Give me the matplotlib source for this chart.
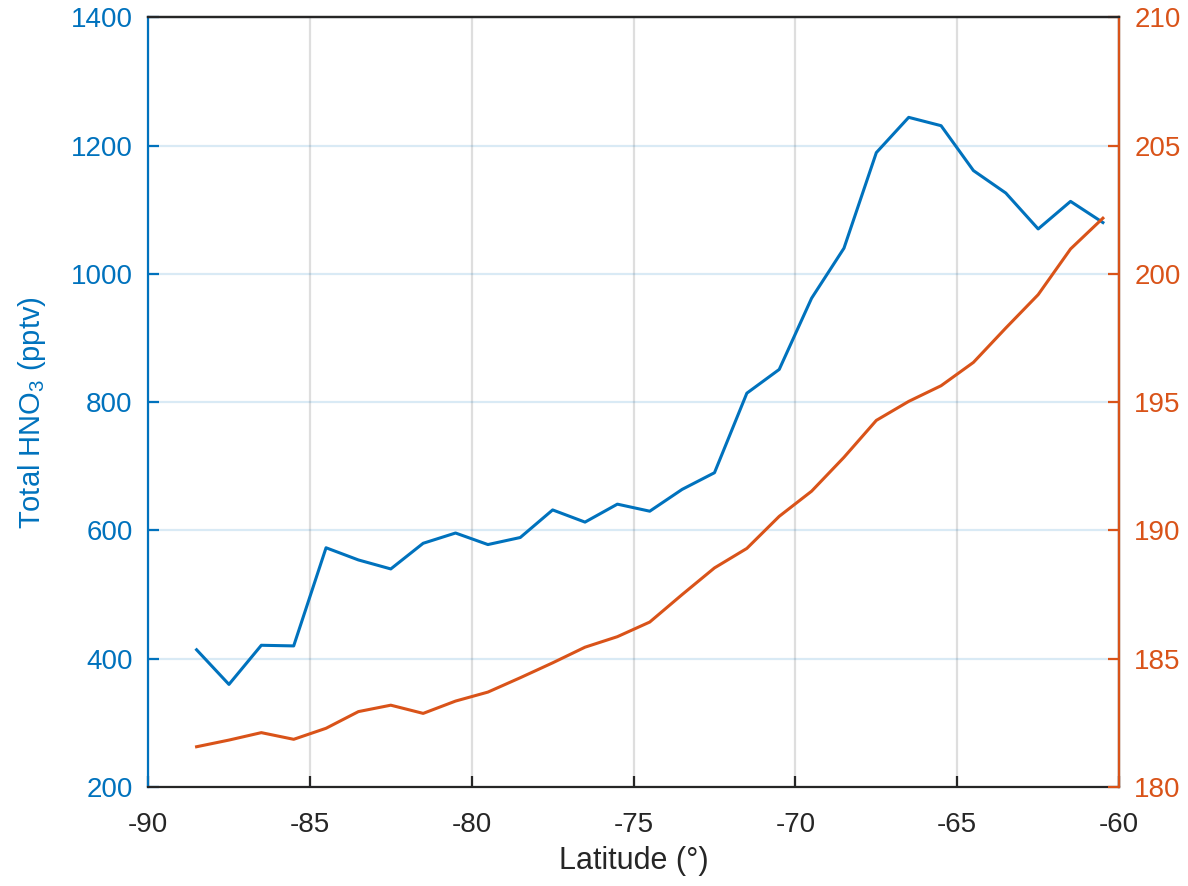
import matplotlib.pyplot as plt

plt.rcParams['font.family'] = ['Liberation Sans', 'DejaVu Sans']
plt.rcParams['mathtext.fontset'] = 'custom'
plt.rcParams['mathtext.rm'] = 'Liberation Sans'
plt.rcParams['mathtext.it'] = 'Liberation Sans'
plt.rcParams['axes.unicode_minus'] = False

BLUE = (0.0, 0.447, 0.741)
ORANGE = (0.85, 0.325, 0.098)
DARK = (0.15, 0.15, 0.15)

latitude = [-88.5, -87.5, -86.5, -85.5, -84.5, -83.5, -82.5, -81.5, -80.5, -79.5,
            -78.5, -77.5, -76.5, -75.5, -74.5, -73.5, -72.5, -71.5, -70.5, -69.5,
            -68.5, -67.5, -66.5, -65.5, -64.5, -63.5, -62.5, -61.5, -60.5]
hno3 = [414, 360, 421, 420, 573, 554, 540, 580, 596, 578,
        589, 632, 613, 641, 630, 664, 690, 814, 851, 962,
        1040, 1189, 1244, 1231, 1161, 1126, 1070, 1113, 1080]
temperature = [181.57, 181.83, 182.12, 181.86, 182.29, 182.94, 183.19, 182.87, 183.35, 183.70,
               184.26, 184.84, 185.45, 185.86, 186.43, 187.5, 188.54, 189.3, 190.55, 191.53,
               192.85, 194.29, 195.03, 195.64, 196.55, 197.89, 199.19, 200.97, 202.17]

xticks = [-90, -85, -80, -75, -70, -65, -60]
left_ticks = [200, 400, 600, 800, 1000, 1200, 1400]
right_ticks = [180, 185, 190, 195, 200, 205, 210]

fig = plt.figure(figsize=(11.88, 8.86), dpi=100)
ax = fig.add_axes([0.1246, 0.1117, 0.8174, 0.8688])
ax2 = ax.twinx()

ax.plot(latitude, hno3, color=BLUE, lw=2.2)
ax2.plot(latitude, temperature, color=ORANGE, lw=2.2)

ax.set_xlim(-90, -60)
ax.set_ylim(200, 1400)
ax2.set_ylim(180, 210)
ax.set_xticks(xticks)
ax.set_yticks(left_ticks)
ax2.set_yticks(right_ticks)

# grid: vertical gray, horizontal tinted with the left axis colour
ax.grid(True, axis='x', color=DARK, alpha=0.15, lw=1.6)
ax.grid(True, axis='y', color=BLUE, alpha=0.15, lw=1.6)
ax.set_axisbelow(True)

for a in (ax, ax2):
    for s in a.spines.values():
        s.set_linewidth(1.6)
ax.spines['left'].set_color(BLUE)
ax.spines['bottom'].set_color(DARK)
ax.spines['top'].set_color(DARK)
ax2.spines['right'].set_color(ORANGE)
ax2.spines['left'].set_visible(False)
ax2.spines['top'].set_color(DARK)
ax2.spines['bottom'].set_visible(False)

ax.tick_params(axis='x', direction='in', length=8, width=1.6, colors=DARK,
               labelsize=20, pad=18, top=False)
ax.tick_params(axis='y', direction='in', length=8, width=1.6, colors=BLUE,
               labelsize=20, pad=11)
ax2.tick_params(axis='y', direction='in', length=8, width=1.6, colors=ORANGE,
                labelsize=20, pad=11)

ax.set_xlabel('Latitude (°)', fontsize=22, color=DARK, labelpad=6)
ax.set_ylabel('Total HNO$_3$ (pptv)', fontsize=21, color=BLUE)
ax.yaxis.set_label_coords(-0.103, 0.487)

fig.savefig('out.png', dpi=100)
